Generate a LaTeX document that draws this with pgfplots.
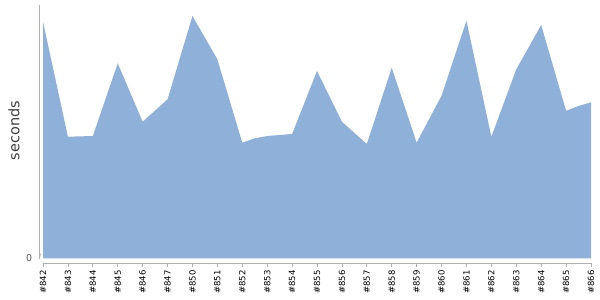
\documentclass[border=0pt]{standalone}
\usepackage{pgfplots}
\pgfplotsset{compat=1.18}
\usepackage{fontspec}
\setmainfont{DejaVu Sans}
\definecolor{area}{RGB}{143,177,217}
\definecolor{axgray}{RGB}{176,176,176}
\begin{document}
\begin{tikzpicture}
\path[use as bounding box] (0,0) rectangle (600pt,300pt);
\begin{axis}[
 at={(39.3pt,36.7pt)}, anchor=south west,
 scale only axis, width=551.7pt, height=258.3pt,
 xmin=-0.149, xmax=22, ymin=-4.8, ymax=253.5,
 axis line style={draw=none},
 clip=false,
 xtick={0,...,22},
 xticklabels={\#842,\#843,\#844,\#845,\#846,\#847,\#850,\#851,\#852,\#853,\#854,\#855,\#856,\#857,\#858,\#859,\#860,\#861,\#862,\#863,\#864,\#865,\#866},
 xtick pos=bottom, ytick pos=left,
 ytick={0},
 tick align=outside,
 major tick length=3.5pt,
 tick style={axgray, line width=0.8pt},
 ytick style={draw=none},
 xticklabel style={rotate=90, anchor=east, font=\fontsize{8.5}{10}\selectfont, text=black},
 yticklabel style={font=\fontsize{9.5}{11}\selectfont, text=black!65},
 /pgf/number format/assume math mode=true,
 ylabel={seconds},
 every axis y label/.style={at={(rel axis cs:0,0.514)}, xshift=-25.3pt, rotate=90, anchor=center, font=\fontsize{14.5}{16}\selectfont, text=black!75},
]
\addplot[draw=none, fill=area] coordinates {
 (0,0) (0,236.8) (1,121.8) (2,122.5) (3,195.2) (4,136.8) (5,159.2) (6,242.5) (7,199.2)
 (8,115.8) (8.5,120.2) (9,122.5) (10,124.5) (11,187.5) (12,136.8) (13,114.5) (14,190.8)
 (15,115.8) (16,162.8) (17,237.8) (18,121.8) (19,189.2) (20,233.5) (21,147.8) (21.5,152.5)
 (22,156.2) (22,0)
} -- cycle;
\draw[axgray, line width=0.8pt] (rel axis cs:0,1) -- (axis cs:-0.149,-1);
\draw[axgray, line width=0.8pt] (axis cs:-0.149,0) -- ++(-2.5pt,0);
\draw[axgray, line width=0.8pt] (axis cs:-0.012,-4.8) -- (axis cs:22,-4.8);
\end{axis}
\end{tikzpicture}
\end{document}
